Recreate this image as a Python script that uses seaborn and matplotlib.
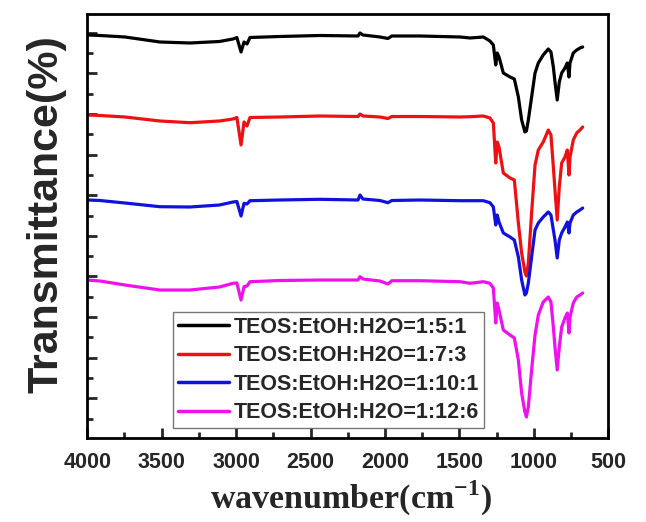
import numpy as np
import pandas as pd
import matplotlib
matplotlib.use("Agg")
import matplotlib.pyplot as plt
from matplotlib.ticker import FixedLocator, MultipleLocator
import seaborn as sns

# ---------------- data (arbitrary offset transmittance) ----------------
wavenumber = [4000, 3915, 3747, 3512, 3310, 3112, 3021, 2995, 2967, 2947, 2927, 2907, 2706, 2437,
              2181, 2168, 2148, 2034, 1980, 1954, 1765, 1496, 1429, 1339, 1295, 1272, 1256, 1246,
              1234, 1205, 1160, 1131, 1104, 1082, 1060, 1050, 1037, 1015, 992, 970, 937, 903, 885,
              869, 858, 843, 829, 813, 791, 775, 764, 757, 735, 712, 690, 672]

t_1_5_1 = [403, 402.5, 401, 396, 395, 396.5, 399, 400.5, 386, 396, 394, 400.5, 401.5, 402.5,
           402, 405, 403, 401, 399.5, 402, 402, 401, 400, 401, 397, 393, 373, 385,
           381, 365, 361, 359, 341, 318, 306, 307, 318, 341, 365, 375, 383, 389, 386,
           371, 356, 338, 356, 365, 370, 375, 361, 375, 385, 388, 390, 391]

t_1_7_3 = [323, 322.5, 321, 317, 315.3, 317, 319, 320.5, 293, 316, 312, 320.5, 321, 322,
           321.5, 324, 322, 321, 319.5, 321.5, 321.5, 321, 321.3, 322, 320, 315, 275, 296,
           291, 265, 260, 258, 215, 185, 166, 162, 175, 225, 273, 288, 296, 308, 303,
           271, 248, 218, 251, 275, 281, 288, 263, 281, 298, 305, 308, 311]

t_1_10_1 = [238, 237.5, 235, 231.3, 231, 233, 236, 236.5, 222, 234.7, 234, 237.3, 238, 238.7,
            238, 243, 239, 237.5, 235.3, 237.5, 238, 237.3, 237.3, 237.3, 235.3, 231, 213, 223,
            216, 205, 201, 198, 181, 158, 143, 145, 155, 181, 208, 215, 221, 226, 223,
            208, 198, 180, 198, 205, 211, 216, 205, 215, 223, 226, 228, 230]

t_1_12_6 = [158, 157, 153, 148, 148, 151, 154.7, 155, 138, 151.3, 152, 156.3, 157.5, 158,
            158, 161.3, 159, 157, 154, 157.3, 157.3, 156.3, 154.7, 156.3, 154.7, 150, 115, 135,
            128, 108, 103, 100, 78, 45, 26, 21, 31, 68, 103, 123, 136, 141, 136,
            111, 91, 68, 91, 111, 120, 125, 105, 121, 135, 141, 143, 145]

labels = ["TEOS:EtOH:H2O=1:5:1", "TEOS:EtOH:H2O=1:7:3",
          "TEOS:EtOH:H2O=1:10:1", "TEOS:EtOH:H2O=1:12:6"]
colors = ["#000000", "#ee1111", "#1111dd", "#ee11ee"]
x_ticks = [4000, 3500, 3000, 2500, 2000, 1500, 1000, 500]

series = [t_1_5_1, t_1_7_3, t_1_10_1, t_1_12_6]
df = pd.concat([pd.DataFrame({"wavenumber": wavenumber, "T": s, "sample": lab})
                for s, lab in zip(series, labels)], ignore_index=True)

# ---------------- style ----------------
sns.set_style("ticks")
plt.rcParams["font.family"] = ["Liberation Sans", "DejaVu Sans"]
plt.rcParams["mathtext.fontset"] = "custom"
plt.rcParams["mathtext.rm"] = "Liberation Serif"
plt.rcParams["mathtext.bf"] = "Liberation Serif:bold"

fig = plt.figure(figsize=(6.46, 5.22), dpi=100)
ax = fig.add_axes([0.1351, 0.1603, 0.8065, 0.8129])

sns.lineplot(data=df, x="wavenumber", y="T", hue="sample", hue_order=labels,
             palette=colors, estimator=None, sort=False, linewidth=2.3, ax=ax)

ax.set_xlim(4000, 500)
ax.set_ylim(-0.3, 424)
ax.set_xticks(x_ticks)
ax.set_xticklabels([str(v) for v in x_ticks], fontsize=15.5, fontweight="bold")
ax.xaxis.set_minor_locator(MultipleLocator(250))

yt = [19.5 + 20.3 * k for k in range(20)]
ax.yaxis.set_major_locator(FixedLocator([yt[k] for k in range(1, 20, 2)]))
ax.yaxis.set_minor_locator(FixedLocator([yt[k] for k in range(0, 20, 2)]))
ax.set_yticklabels([])

ax.tick_params(axis="both", which="major", direction="in", length=7, width=2,
               top=False, right=False, pad=10)
ax.tick_params(axis="both", which="minor", direction="in", length=4, width=2,
               top=False, right=False)
for sp in ax.spines.values():
    sp.set_visible(True)
    sp.set_linewidth(2)
    sp.set_color("black")

ax.set_xlabel("")
ax.set_ylabel("")
fig.text(47 / 646, 1 - 214 / 522, "Transmittance(%)", rotation=90, ha="center",
         va="center", fontsize=31, fontweight="bold")
fig.text(351 / 646, 1 - 498 / 522, r"wavenumber(cm$^{\mathbf{-1}}$)", ha="center",
         va="center", fontsize=24.5, fontweight="bold", family="Liberation Serif")

handles, labs = ax.get_legend_handles_labels()
leg = ax.legend(handles, labs, loc="lower left", bbox_to_anchor=(0.1645, 0.0243),
                borderaxespad=0, frameon=True, fancybox=False,
                prop={"weight": "bold", "size": 15.5}, handlelength=2.4,
                handletextpad=0.2, labelspacing=0.35, borderpad=0.22)
leg.get_frame().set_edgecolor("#555555")
leg.get_frame().set_linewidth(1.0)
for line in leg.get_lines():
    line.set_linewidth(2.5)

fig.savefig("out.png", dpi=100)
